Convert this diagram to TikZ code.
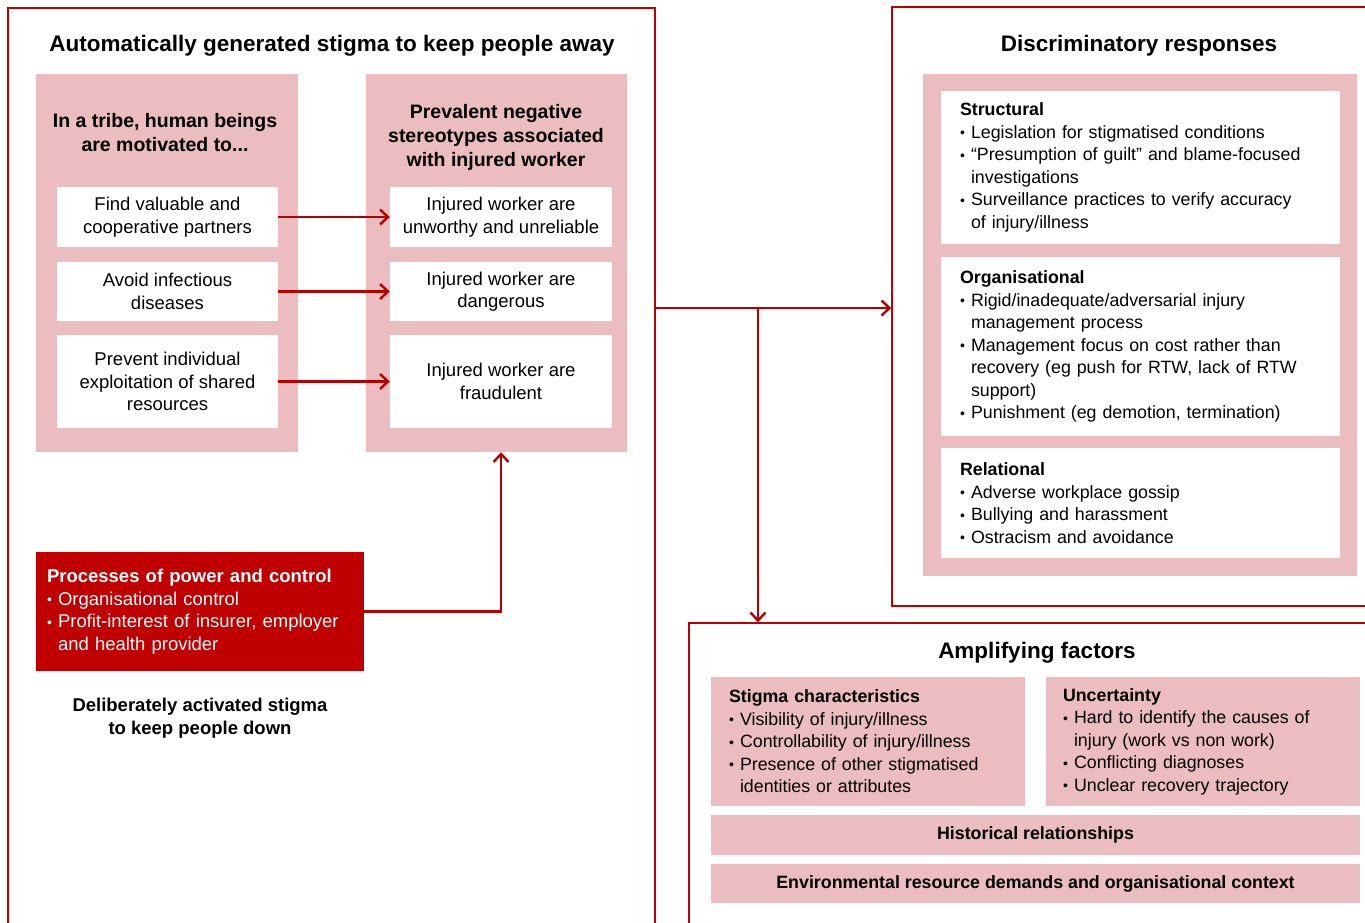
\documentclass[tikz,border=0pt]{standalone}
\usepackage{fontspec}
\setmainfont{Liberation Sans}
\usetikzlibrary{positioning,arrows.meta}
\definecolor{stigred}{RGB}{192,0,0}
\definecolor{stigpink}{RGB}{236,189,192}
\setlength{\parindent}{0pt}
\newcommand{\bodyfs}{\fontsize{18.5}{22.5}\selectfont}
\newcommand{\listfs}{\fontsize{17.8}{22.5}\selectfont}
\newcommand{\headfs}{\fontsize{19.5}{24}\selectfont\bfseries}
\newcommand{\titlefs}{\fontsize{22.5}{27}\selectfont\bfseries}
\newcommand{\bulmark}{\raisebox{0.5pt}{\fontsize{14}{14}\selectfont\textbullet}}
\newcommand{\bpt}{\par\hangindent=11pt\hangafter=1\noindent\makebox[11pt][l]{\bulmark}}

\begin{document}
\begin{tikzpicture}[x=1pt,y=-1pt,>={Straight Barb[length=8pt,width=15pt]},
  frame/.style={draw=stigred,line width=1.5pt,inner sep=0pt},
  panel/.style={fill=stigpink,inner sep=0pt},
  whitebox/.style={fill=white,inner sep=0pt,align=center,font=\bodyfs},
  listbox/.style={align=left,inner xsep=19pt,inner ysep=0pt,font=\listfs},
  link/.style={->,draw=stigred!95!black,line width=2.4pt}]
\useasboundingbox (0,0) rectangle (1365,922);
\clip (0,0) rectangle (1365,922);

% outer frames
\node[frame,minimum width=647pt,minimum height=932pt] (autoF) at (331.5,474) {};
\node[frame,minimum width=488pt,minimum height=599pt] (discF) at (1136,306.5) {};
\node[frame,minimum width=691pt,minimum height=317pt] (ampF) at (1034.5,781.5) {};

% automatically generated stigma
\node[font=\titlefs] (autoT) at (332,46) {Automatically generated stigma to keep people away};
\node[panel,minimum width=262pt,minimum height=378pt] (tribeP) at (167,263) {};
\node[font=\headfs,align=center] (tribeH) at (165,133) {In a tribe, human beings\\are motivated to...};
\node[panel,minimum width=261pt,minimum height=378pt] (stereoP) at (496.5,263) {};
\node[font=\headfs,align=center] (stereoH) at (496,137) {Prevalent negative\\stereotypes associated\\with injured worker};

\node[whitebox,minimum width=221pt,minimum height=60pt] (find) at (167.5,217) {Find valuable and\\cooperative partners};
\node[whitebox,minimum width=221pt,minimum height=59pt] (avoid) at (167.5,291.5) {Avoid infectious\\diseases};
\node[whitebox,minimum width=221pt,minimum height=93pt] (prevent) at (167.5,381.5) {Prevent individual\\exploitation of shared\\resources};
\node[whitebox,minimum width=222pt,minimum height=60pt] (unworthy) at (501,217) {Injured worker are\\unworthy and unreliable};
\node[whitebox,minimum width=222pt,minimum height=59pt] (dangerous) at (501,291.5) {Injured worker are\\dangerous};
\node[whitebox,minimum width=222pt,minimum height=93pt] (fraud) at (501,381.5) {Injured worker are\\fraudulent};

\draw[link] (find) -- (unworthy);
\draw[link] (avoid) -- (dangerous);
\draw[link] (prevent) -- (fraud);

% deliberately activated stigma
\node[fill=stigred,text=white,minimum width=328pt,minimum height=119pt,text width=306pt,inner xsep=11pt,align=left,font=\bodyfs] (power) at (200,611.5) {\textbf{Processes of power and control}\bpt Organisational control\bpt Profit-interest of insurer, employer\newline and health provider\par};
\node[font=\bodyfs\bfseries,align=center] (delib) at (200,718) {Deliberately activated stigma\\to keep people down};

\draw[link] (power.east) -| (fraud.south |- stereoP.south);

% discriminatory responses
\node[font=\titlefs] (discT) at (1139,46) {Discriminatory responses};
\node[panel,minimum width=434pt,minimum height=502pt] (discP) at (1140,325) {};
\node[listbox,fill=white,text width=361pt,minimum width=399pt,minimum height=153pt] (structural) at (1140.5,167.5) {\textbf{Structural}\bpt Legislation for stigmatised conditions\bpt “Presumption of guilt” and blame-focused\newline investigations\bpt Surveillance practices to verify accuracy\newline of injury/illness\par};
\node[listbox,fill=white,text width=361pt,minimum width=399pt,minimum height=179pt] (organisational) at (1140.5,346.5) {\textbf{Organisational}\bpt Rigid/inadequate/adversarial injury\newline management process\bpt Management focus on cost rather than\newline recovery (eg push for RTW, lack of RTW\newline support)\bpt Punishment (eg demotion, termination)\par};
\node[listbox,fill=white,text width=361pt,minimum width=399pt,minimum height=110pt] (relational) at (1140.5,503) {\textbf{Relational}\bpt Adverse workplace gossip\bpt Bullying and harassment\bpt Ostracism and avoidance\par};

% amplifying factors
\node[font=\titlefs] (ampT) at (1037,653) {Amplifying factors};
\node[listbox,fill=stigpink,inner xsep=18pt,text width=278pt,minimum width=314pt,minimum height=129pt] (stigchar) at (868,741.5) {\textbf{Stigma characteristics}\bpt Visibility of injury/illness\bpt Controllability of injury/illness\bpt Presence of other stigmatised\newline identities or attributes\par};
\node[listbox,fill=stigpink,inner xsep=17pt,text width=280pt,minimum width=314pt,minimum height=129pt] (uncert) at (1203,741.5) {\textbf{Uncertainty}\bpt Hard to identify the causes of\newline injury (work vs non work)\bpt Conflicting diagnoses\bpt Unclear recovery trajectory\par};
\node[panel,font=\listfs\bfseries,minimum width=649pt,minimum height=40pt] (hist) at (1035.5,835) {Historical relationships};
\node[panel,font=\listfs\bfseries,minimum width=649pt,minimum height=39pt] (env) at (1035.5,883.5) {Environmental resource demands and organisational context};

% links between the frames
\coordinate (split) at (758,308);
\draw[link] (autoF.east |- split) -- (discF.west |- split);
\draw[link] (split) -- (split |- ampF.north);
\end{tikzpicture}
\end{document}
